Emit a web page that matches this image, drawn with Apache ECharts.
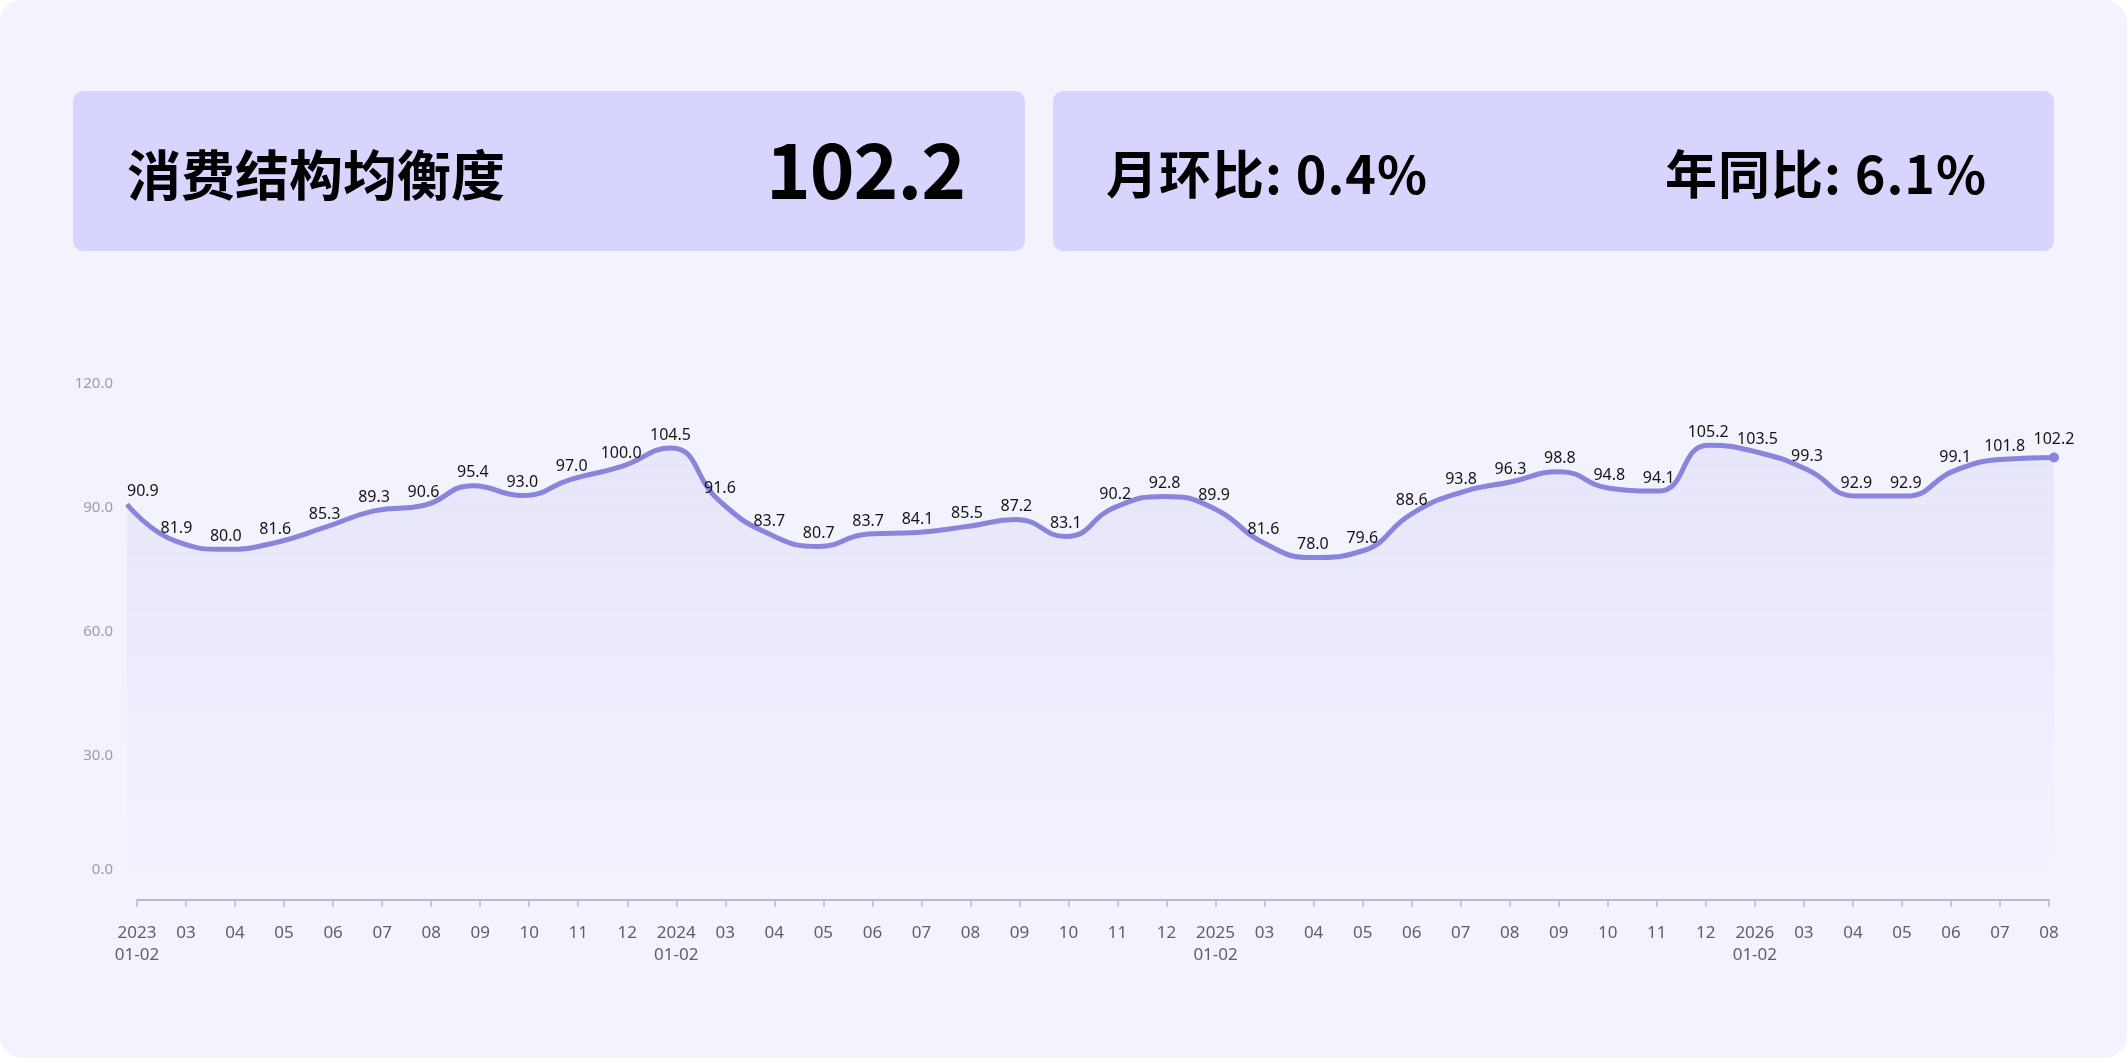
<!DOCTYPE html>
<html>
<head>
<meta charset="utf-8">
<title>消费结构均衡度</title>
<script src="https://cdn.jsdelivr.net/npm/echarts@6/dist/echarts.min.js"></script>
<style>
html, body { margin: 0; padding: 0; background: #fff; }
.wrap { position: relative; width: 2127px; height: 1058px; background: #f3f3fe; border-radius: 22px; overflow: hidden; font-family: "Noto Sans CJK SC", sans-serif; }
#chart { position: absolute; left: 0; top: 0; width: 2127px; height: 1058px; }
.card { position: absolute; top: 91px; height: 160px; background: #d7d4fd; border-radius: 10px; color: #000; font-weight: bold; }
#card1 { left: 73px; width: 952px; }
#card2 { left: 1053px; width: 1001px; }
.txt { position: absolute; line-height: 1; white-space: nowrap; }
</style>
</head>
<body>
<div class="wrap">
  <div id="chart"></div>
  <div class="card" id="card1">
    <div class="txt" id="title" style="left:54px;top:55px;font-size:54px;"></div>
    <div class="txt" id="latest" style="right:60px;top:37px;font-size:76px;letter-spacing:-1px;"></div>
  </div>
  <div class="card" id="card2">
    <div class="txt" id="mom" style="left:53px;top:55px;font-size:52px;letter-spacing:1px;"></div>
    <div class="txt" id="yoy" style="left:612px;top:55px;font-size:52px;letter-spacing:1px;"></div>
  </div>
</div>
<script>
// 标题与指标
var titleText = '消费结构均衡度';
var latestValue = '102.2';
var momText = '月环比: 0.4%';
var yoyText = '年同比: 6.1%';

// 横轴月份
var categories = [
    '2023\n01-02', '03', '04', '05', '06', '07', '08', '09', '10', '11', '12',
    '2024\n01-02', '03', '04', '05', '06', '07', '08', '09', '10', '11', '12',
    '2025\n01-02', '03', '04', '05', '06', '07', '08', '09', '10', '11', '12',
    '2026\n01-02', '03', '04', '05', '06', '07', '08'
];

// 指数值
var values = [
    90.9, 81.9, 80.0, 81.6, 85.3, 89.3, 90.6, 95.4, 93.0, 97.0, 100.0,
    104.5, 91.6, 83.7, 80.7, 83.7, 84.1, 85.5, 87.2, 83.1, 90.2, 92.8,
    89.9, 81.6, 78.0, 79.6, 88.6, 93.8, 96.3, 98.8, 94.8, 94.1, 105.2,
    103.5, 99.3, 92.9, 92.9, 99.1, 101.8, 102.2
];

// 纵轴刻度
var yMin = 0;
var yMax = 120;
var yStep = 30;

document.getElementById('title').textContent = titleText;
document.getElementById('latest').textContent = latestValue;
document.getElementById('mom').textContent = momText;
document.getElementById('yoy').textContent = yoyText;

var myChart = echarts.init(document.getElementById('chart'));

var lineColor = '#8a84dc';
var seriesData = values.map(function (v, i) {
    if (i === 0) {
        return { value: v, label: { align: 'left' } };
    }
    return v;
});

var option = {
    animation: false,
    textStyle: { fontFamily: 'Noto Sans' },
    grid: [
        { left: 137, right: 78, top: 384, bottom: 158 },
        { left: 127, right: 73, top: 384, bottom: 178 }
    ],
    xAxis: [
        {
            gridIndex: 0,
            type: 'category',
            data: categories,
            boundaryGap: false,
            axisLine: { lineStyle: { color: '#b9b8d3', width: 2 } },
            axisTick: { show: true, length: 7, interval: 0, lineStyle: { color: '#b9b8d3', width: 1.5 } },
            axisLabel: { interval: 0, color: '#5f5f6b', fontSize: 17, lineHeight: 22, margin: 22 }
        },
        {
            gridIndex: 1,
            type: 'category',
            data: categories,
            boundaryGap: false,
            show: false
        }
    ],
    yAxis: [
        { gridIndex: 0, type: 'value', min: yMin, max: yMax, show: false },
        {
            gridIndex: 1,
            type: 'value',
            min: yMin,
            max: yMax,
            interval: yStep,
            axisLine: { show: false },
            axisTick: { show: false },
            splitLine: { show: false },
            axisLabel: {
                color: '#9d9cab',
                fontSize: 15,
                margin: 14,
                formatter: function (v) {
                    if (v === 0) return '{z|' + v.toFixed(1) + '}';
                    return v.toFixed(1);
                },
                rich: { z: { color: '#9d9cab', fontSize: 15, padding: [0, 0, 20, 0] } }
            }
        }
    ],
    series: [
        {
            name: '消费结构均衡度',
            type: 'line',
            xAxisIndex: 1,
            yAxisIndex: 1,
            data: seriesData,
            smooth: true,
            symbol: 'circle',
            showSymbol: true,
            showAllSymbol: true,
            symbolSize: function (v, params) {
                return params.dataIndex === values.length - 1 ? 10 : 0;
            },
            itemStyle: { color: lineColor },
            lineStyle: { color: lineColor, width: 5 },
            areaStyle: {
                color: new echarts.graphic.LinearGradient(0, 0, 0, 1, [
                    { offset: 0, color: 'rgba(140,132,222,0.17)' },
                    { offset: 1, color: 'rgba(140,132,222,0)' }
                ])
            },
            label: {
                show: true,
                position: 'top',
                distance: 5,
                color: '#151515',
                fontSize: 16,
                formatter: function (p) { return p.value.toFixed(1); }
            },
            emphasis: { disabled: true }
        }
    ]
};

myChart.setOption(option);
</script>
</body>
</html>
